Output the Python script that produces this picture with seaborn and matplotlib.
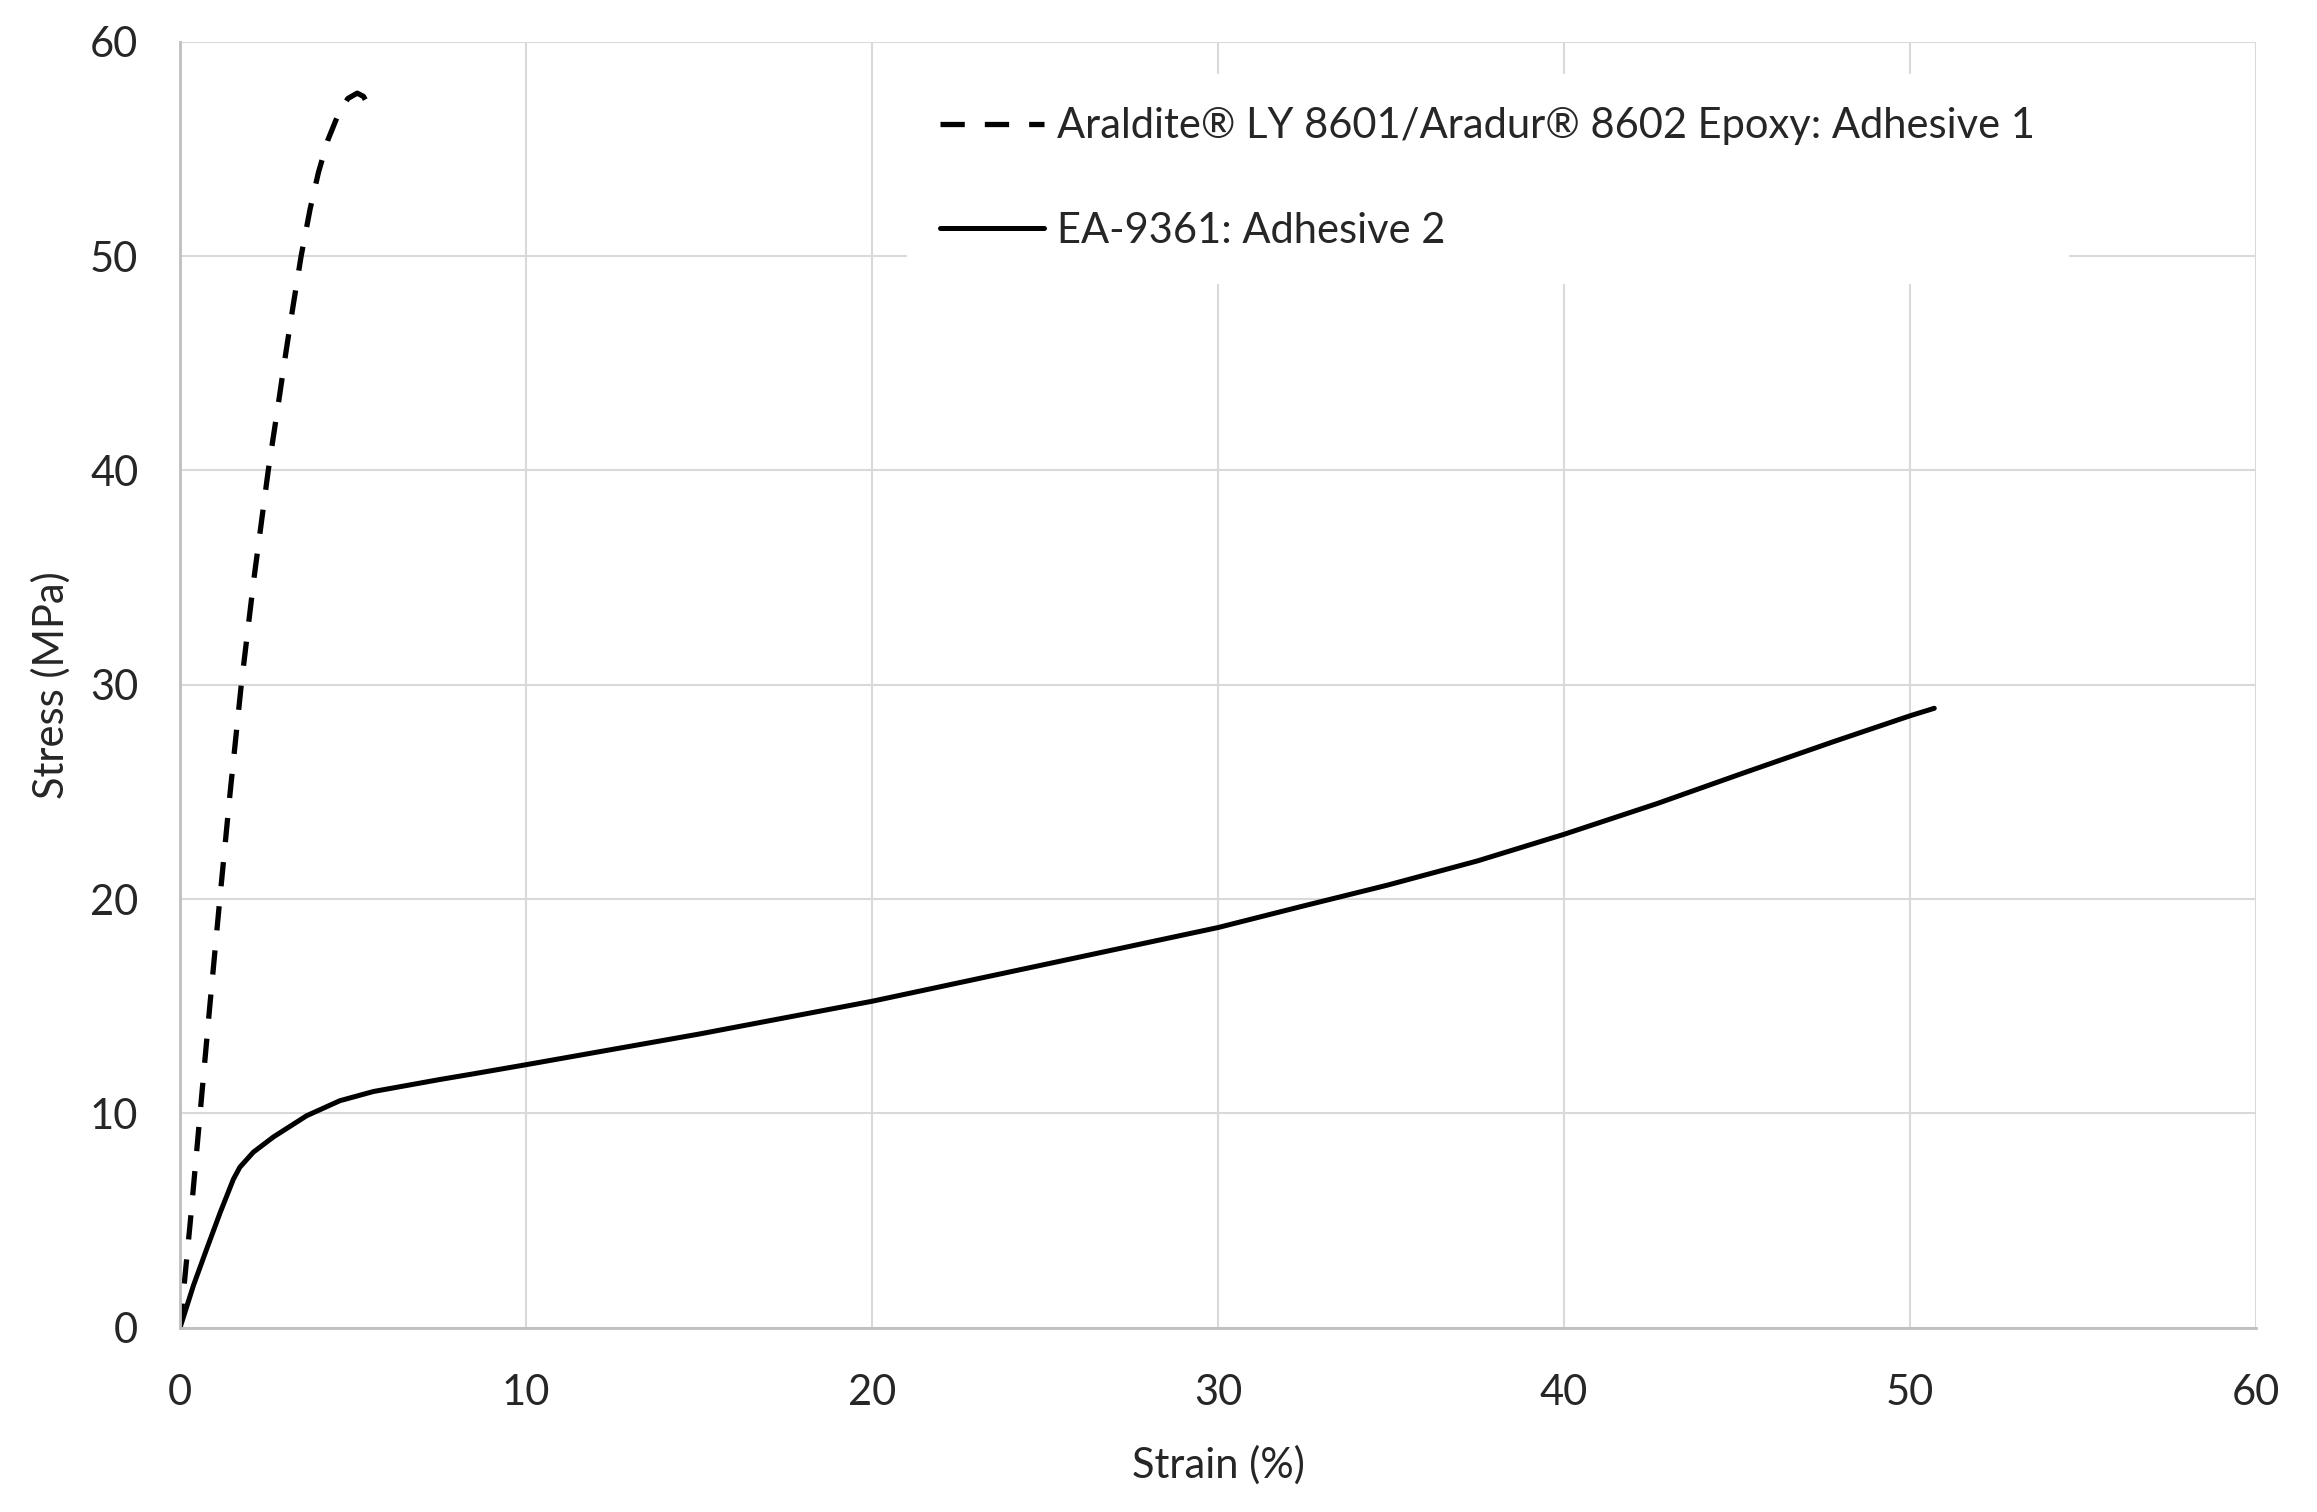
import numpy as np
import pandas as pd
import seaborn as sns
import matplotlib.pyplot as plt

# === data ===
adh1_label = "Araldite® LY 8601/Aradur® 8602 Epoxy: Adhesive 1"
adh1_strain = [0.0, 0.30, 0.58, 0.86, 1.15, 1.45, 1.77, 2.14, 2.55, 2.85, 3.05, 3.27,
               3.50, 3.76, 4.00, 4.27, 4.57, 4.85, 5.12, 5.30, 5.44]
adh1_stress = [0.0, 5.0, 10.0, 15.0, 20.0, 25.0, 30.0, 35.0, 40.0, 43.2, 45.4, 47.7,
               50.0, 52.2, 53.9, 55.4, 56.6, 57.35, 57.6, 57.45, 57.05]

adh2_label = "EA-9361: Adhesive 2"
adh2_strain = [0.0, 0.39, 0.77, 1.16, 1.54, 1.73, 2.12, 2.70, 3.66, 4.62, 5.59, 6.55,
               7.51, 8.5, 10.0, 15.0, 20.0, 25.0, 30.0, 32.4, 34.9, 37.5, 40.0, 42.7,
               45.2, 47.8, 50.0, 50.7]
adh2_stress = [0.0, 1.98, 3.67, 5.37, 6.92, 7.49, 8.19, 8.90, 9.89, 10.59, 11.02, 11.30,
               11.58, 11.85, 12.27, 13.70, 15.23, 16.95, 18.67, 19.65, 20.65, 21.78, 23.02,
               24.46, 25.89, 27.35, 28.55, 28.90]

x_ticks = [0, 10, 20, 30, 40, 50, 60]
y_ticks = [0, 10, 20, 30, 40, 50, 60]

df1 = pd.DataFrame({"strain": adh1_strain, "stress": adh1_stress})
df2 = pd.DataFrame({"strain": adh2_strain, "stress": adh2_stress})

sns.set_style("white")
plt.rcParams['font.family'] = ['Lato', 'DejaVu Sans']

fig = plt.figure(figsize=(23.17, 15.12), dpi=100)
ax = fig.add_axes([0.0777, 0.1219, 0.896, 0.8505])

grid_c = "#d9d9d9"
for v in x_ticks:
    ax.axvline(v, color=grid_c, lw=1.5, zorder=0)
for v in y_ticks:
    ax.axhline(v, color=grid_c, lw=1.5, zorder=0)

sns.lineplot(data=df1, x="strain", y="stress", sort=False, estimator=None,
             color="black", lw=3.8, linestyle=(0, (4.6, 3.8)), label=adh1_label, ax=ax)
sns.lineplot(data=df2, x="strain", y="stress", sort=False, estimator=None,
             color="black", lw=3.6, label=adh2_label, ax=ax)

ax.set_xlim(0, 60)
ax.set_ylim(0, 60)
ax.set_xticks(x_ticks)
ax.set_yticks(y_ticks)
ax.tick_params(axis="both", length=0, labelsize=30)
ax.tick_params(axis="x", pad=33)
ax.tick_params(axis="y", pad=30)

for side in ["top", "right"]:
    ax.spines[side].set_visible(False)
for side in ["left", "bottom"]:
    ax.spines[side].set_color("#bfbfbf")
    ax.spines[side].set_linewidth(2)

ax.set_xlabel("Strain (%)", fontsize=30, labelpad=24)
ax.set_ylabel("Stress (MPa)", fontsize=30, labelpad=14)

leg = ax.legend(loc="upper left", bbox_to_anchor=(0.35, 0.975), borderaxespad=0,
                fontsize=30, frameon=True, fancybox=False, framealpha=1,
                facecolor="white", edgecolor="white", handlelength=2.5,
                handletextpad=0.3, labelspacing=1.6, borderpad=0.8)

fig.savefig("out.png", dpi=100, facecolor="white")
